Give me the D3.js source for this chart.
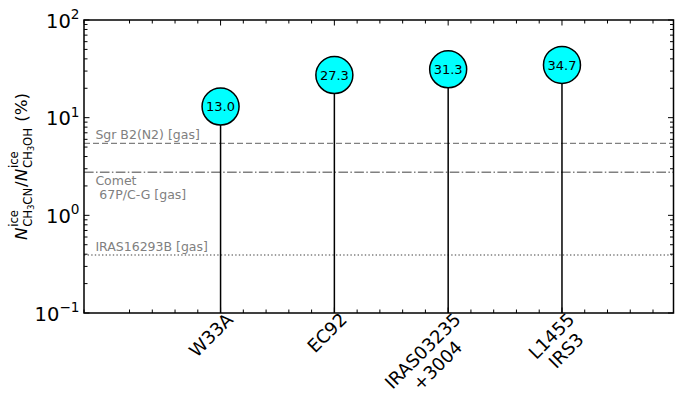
<!DOCTYPE html>
<html><head><meta charset="utf-8">
<script src="https://cdn.jsdelivr.net/npm/d3@7"></script>
<style>
body{margin:0;background:#fff}
svg{display:block}
text{font-family:"DejaVu Sans",sans-serif}
</style>
</head><body>
<svg id="chart" width="675" height="405"></svg>
<script>
// ---- data ----
const categories = ["W33A", "EC92", "IRAS03235\n+3004", "L1455\nIRS3"];
const ratios = [13.0, 27.3, 31.3, 34.7];
const ratioLabels = ["13.0", "27.3", "31.3", "34.7"];
const refNames = ["Sgr B2(N2) [gas]", "Comet\n 67P/C-G [gas]", "IRAS16293B [gas]"];
const refValues = [5.45, 2.76, 0.392];
const yTickValues = [0.1, 1, 10, 100];
const yTickExponents = ["\u22121", "0", "1", "2"];

// ---- layout ----
const W = 675, H = 405;
const L = 84, R = 673.5, T = 20, B = 313;
const svg = d3.select("#chart");
svg.append("rect").attr("width", W).attr("height", H).attr("fill", "#fff");

const x = d3.scaleLinear().domain([-1.2, 3.98]).range([L, R]);
const y = d3.scaleLog().domain([0.1, 100]).range([B, T]);

// reference lines
const refDash = ["6,3", "9.6,2.4,1.5,2.4", "1.4,2.2"];
const refGray = "#808080";
refValues.forEach((v, i) => {
  svg.append("line")
    .attr("x1", L).attr("x2", R)
    .attr("y1", y(v)).attr("y2", y(v))
    .attr("stroke", refGray).attr("stroke-width", 1.4)
    .attr("stroke-dasharray", refDash[i]);
});
// reference labels
const refFs = 12.5;
const refX = x(-1.1);
refNames.forEach((name, i) => {
  const lines = name.split("\n");
  const yy = y(refValues[i]);
  const below = lines.length > 1;
  lines.forEach((ln, j) => {
    const base = below ? yy + 12.7 + j * 14.4 : yy - 4;
    svg.append("text")
      .attr("x", refX).attr("y", base)
      .attr("font-size", refFs).attr("fill", refGray)
      .style("white-space", "pre")
      .text(ln);
  });
});

// stems
categories.forEach((c, i) => {
  svg.append("line")
    .attr("x1", x(i)).attr("x2", x(i))
    .attr("y1", y(0.1)).attr("y2", y(ratios[i]))
    .attr("stroke", "#000").attr("stroke-width", 1.5);
});
// markers
categories.forEach((c, i) => {
  svg.append("circle")
    .attr("cx", x(i)).attr("cy", y(ratios[i])).attr("r", 18.5)
    .attr("fill", "#00ffff").attr("stroke", "#000").attr("stroke-width", 1.5);
  svg.append("text")
    .attr("x", x(i)).attr("y", y(ratios[i]) + 4.7)
    .attr("text-anchor", "middle").attr("font-size", 13).attr("fill", "#000")
    .text(ratioLabels[i]);
});

// ---- axes frame & ticks ----
const majLen = 5.5, minLen = 3.5;
const tickG = svg.append("g").attr("stroke", "#000").attr("stroke-width", 1);
// x ticks (top & bottom)
const xMajor = categories.map((c, i) => i);
const xMinor = d3.range(-1.2, 3.99, 0.2).map(v => +v.toFixed(2)).filter(v => Math.abs(v - Math.round(v)) > 1e-6);
xMajor.forEach(v => {
  tickG.append("line").attr("x1", x(v)).attr("x2", x(v)).attr("y1", B).attr("y2", B - majLen);
  tickG.append("line").attr("x1", x(v)).attr("x2", x(v)).attr("y1", T).attr("y2", T + majLen);
});
xMinor.forEach(v => {
  tickG.append("line").attr("x1", x(v)).attr("x2", x(v)).attr("y1", B).attr("y2", B - minLen);
  tickG.append("line").attr("x1", x(v)).attr("x2", x(v)).attr("y1", T).attr("y2", T + minLen);
});
// y ticks (left & right)
const yMinor = [];
[0.1, 1, 10].forEach(d => { for (let k = 2; k <= 9; k++) yMinor.push(k * d); });
yTickValues.forEach(v => {
  tickG.append("line").attr("x1", L).attr("x2", L + majLen).attr("y1", y(v)).attr("y2", y(v));
  tickG.append("line").attr("x1", R).attr("x2", R - majLen).attr("y1", y(v)).attr("y2", y(v));
});
yMinor.forEach(v => {
  tickG.append("line").attr("x1", L).attr("x2", L + minLen).attr("y1", y(v)).attr("y2", y(v));
  tickG.append("line").attr("x1", R).attr("x2", R - minLen).attr("y1", y(v)).attr("y2", y(v));
});
// frame
svg.append("rect").attr("x", L).attr("y", T).attr("width", R - L).attr("height", B - T)
  .attr("fill", "none").attr("stroke", "#000").attr("stroke-width", 1.5);

// y tick labels
const yFs = 19.5;
yTickValues.forEach((v, i) => {
  const t = svg.append("text")
    .attr("x", L - 4.5).attr("y", y(v) + 7.5)
    .attr("text-anchor", "end").attr("font-size", yFs).attr("fill", "#000");
  t.append("tspan").text("10");
  t.append("tspan").attr("dy", -8.5).attr("font-size", yFs * 0.7).text(yTickExponents[i]);
});

// x tick labels (rotated 45°, lines centred, block right-aligned)
const xFs = 18, lineStep = 20.7, ascent = 13.7;
categories.forEach((c, i) => {
  const g = svg.append("g")
    .attr("transform", `translate(${x(i) + 4},${B - 2}) rotate(-45)`);
  const lines = c.split("\n");
  const texts = lines.map((ln, j) => g.append("text")
    .attr("y", ascent + j * lineStep)
    .attr("text-anchor", "middle").attr("font-size", xFs).attr("fill", "#000")
    .text(ln));
  const wmax = d3.max(texts, t => t.node().getComputedTextLength());
  texts.forEach(t => t.attr("x", -wmax / 2));
});

// y axis label: N^ice_{CH3CN}/N^ice_{CH3OH} (%)
const fs = 16.7, ss = fs * 0.7, sss = fs * 0.49;
const outer = svg.append("g").attr("transform", `translate(26.5,${(T + B) / 2}) rotate(-90)`);
const lab = outer.append("g");
let cx = 0;
function put(str, px, py, size, italic) {
  const t = lab.append("text").attr("x", px).attr("y", py).attr("font-size", size)
    .attr("fill", "#000").style("font-style", italic ? "italic" : "normal")
    .style("white-space", "pre").text(str);
  return t.node().getComputedTextLength();
}
function fraction(subParts) {
  cx += put("N", cx, 0, fs, true);
  const x0 = cx + 0.8;
  const wSup = put("ice", x0, -8.6, ss, false);
  let w = 0;
  subParts.forEach(p => {
    if (p.small) w += put(p.s, x0 + w, 7.2, sss, false);
    else w += put(p.s, x0 + w, 5, ss, false);
  });
  cx = x0 + Math.max(wSup, w) + 0.8;
}
fraction([{s: "CH"}, {s: "3", small: true}, {s: "CN"}]);
cx += put("/", cx, 0, fs, false);
fraction([{s: "CH"}, {s: "3", small: true}, {s: "OH"}]);
cx += put(" (%)", cx, 0, fs, false);
lab.attr("transform", `translate(${-cx / 2},0)`);
</script>
</body></html>
